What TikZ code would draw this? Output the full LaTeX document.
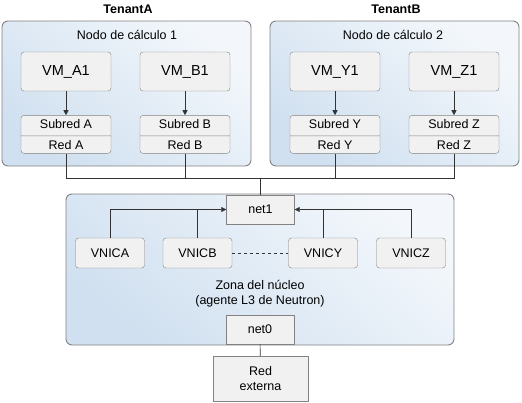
\documentclass[tikz,border=0pt]{standalone}
\usepackage{fontspec}
\setmainfont{Liberation Sans}
\usetikzlibrary{shapes.multipart, arrows.meta, positioning}
\definecolor{panelblue}{RGB}{208,224,240}
\definecolor{boxgray}{RGB}{241,241,241}
\definecolor{edgegray}{RGB}{130,130,130}

\begin{document}
\begin{tikzpicture}[
  x=1pt, y=-1pt,
  panel/.style={rectangle, draw=edgegray, line width=0.9pt, rounded corners=6pt,
                bottom color=panelblue, top color=panelblue!25!white, shading angle=-40},
  vmbox/.style={rectangle, rounded corners=3pt, draw=edgegray, fill=boxgray,
                minimum width=90pt, minimum height=39pt, font=\fontsize{14.5}{16}\selectfont},
  subnet/.style={rectangle split, rectangle split parts=2, rounded corners=3pt,
                 draw=edgegray, fill=boxgray, minimum width=90pt, text height=9pt,
                 text depth=3pt, inner ysep=4pt, font=\fontsize{12.5}{14}\selectfont},
  vnic/.style={rectangle, rounded corners=3pt, draw=edgegray, fill=boxgray,
               minimum width=69pt, minimum height=30pt, font=\fontsize{12.5}{15}\selectfont},
  port/.style={rectangle, draw=edgegray, fill=boxgray, minimum width=68pt,
               minimum height=29pt, font=\fontsize{12.5}{15}\selectfont},
  title/.style={font=\fontsize{12.5}{14}\selectfont\bfseries},
  caption/.style={font=\fontsize{12.5}{15}\selectfont, align=center},
  link/.style={draw=black!80, line width=0.6pt},
  arr/.style={link, -{Triangle[length=5pt,width=5pt]}},
]
\useasboundingbox (0,0) rectangle (522,402);

% Tenants
\node[title] (tenA) at (128,9) {TenantA};
\node[title] (tenB) at (396,9) {TenantB};
\node[panel, minimum width=249pt, minimum height=145pt] (hostA) at (126.5,93.5) {};
\node[panel, minimum width=249pt, minimum height=145pt] (hostB) at (394.5,93.5) {};
\node[caption] (lblA) at (127,35) {Nodo de cálculo 1};
\node[caption] (lblB) at (393,35) {Nodo de cálculo 2};

% VMs and subnets
\node[vmbox] (vmA) at (66,71.5) {VM\_A1};
\node[vmbox] (vmB) at (185,71.5) {VM\_B1};
\node[vmbox] (vmY) at (335,71.5) {VM\_Y1};
\node[vmbox] (vmZ) at (454,71.5) {VM\_Z1};
\node[subnet, below=24pt of vmA] (subA) {Subred A\nodepart{two}Red A};
\node[subnet, below=24pt of vmB] (subB) {Subred B\nodepart{two}Red B};
\node[subnet, below=24pt of vmY] (subY) {Subred Y\nodepart{two}Red Y};
\node[subnet, below=24pt of vmZ] (subZ) {Subred Z\nodepart{two}Red Z};

\draw[arr] (vmA) -- (subA);
\draw[arr] (vmB) -- (subB);
\draw[arr] (vmY) -- (subY);
\draw[arr] (vmZ) -- (subZ);

% Core zone
\node[panel, minimum width=388pt, minimum height=151pt] (core) at (260,269.5) {};
\node[port] (net1) at (260.5,209.5) {net1};
\node[vnic] (vnicA) at (110,253) {VNICA};
\node[vnic] (vnicB) at (197.5,253) {VNICB};
\node[vnic] (vnicY) at (323,253) {VNICY};
\node[vnic] (vnicZ) at (411,253) {VNICZ};
\node[caption] (zone) at (260,293.5) {Zona del núcleo\\(agente L3 de Neutron)};
\node[port] (net0) at (260,329.5) {net0};
\node[port, minimum width=95pt, minimum height=45pt, align=center] (ext) at (260.5,378.5) {Red\\externa};

% Bus between compute nodes and net1
\coordinate (bus) at (260.5,178);
\draw[link] (subA.south) |- (bus);
\draw[link] (subZ.south) |- (bus);
\draw[link] (subB.south) -- (subB.south |- bus);
\draw[link] (subY.south) -- (subY.south |- bus);
\draw[link] (bus) -- (net1);

\draw[arr] (vnicA.north) |- (net1.west);
\draw[link] (vnicB.north) -- (vnicB.north |- net1.west);
\draw[arr] (vnicZ.north) |- (net1.east);
\draw[link] (vnicY.north) -- (vnicY.north |- net1.east);
\draw[link, dashed] (vnicB) -- (vnicY);

\draw[link] (net0) -- (ext);

\end{tikzpicture}
\end{document}
